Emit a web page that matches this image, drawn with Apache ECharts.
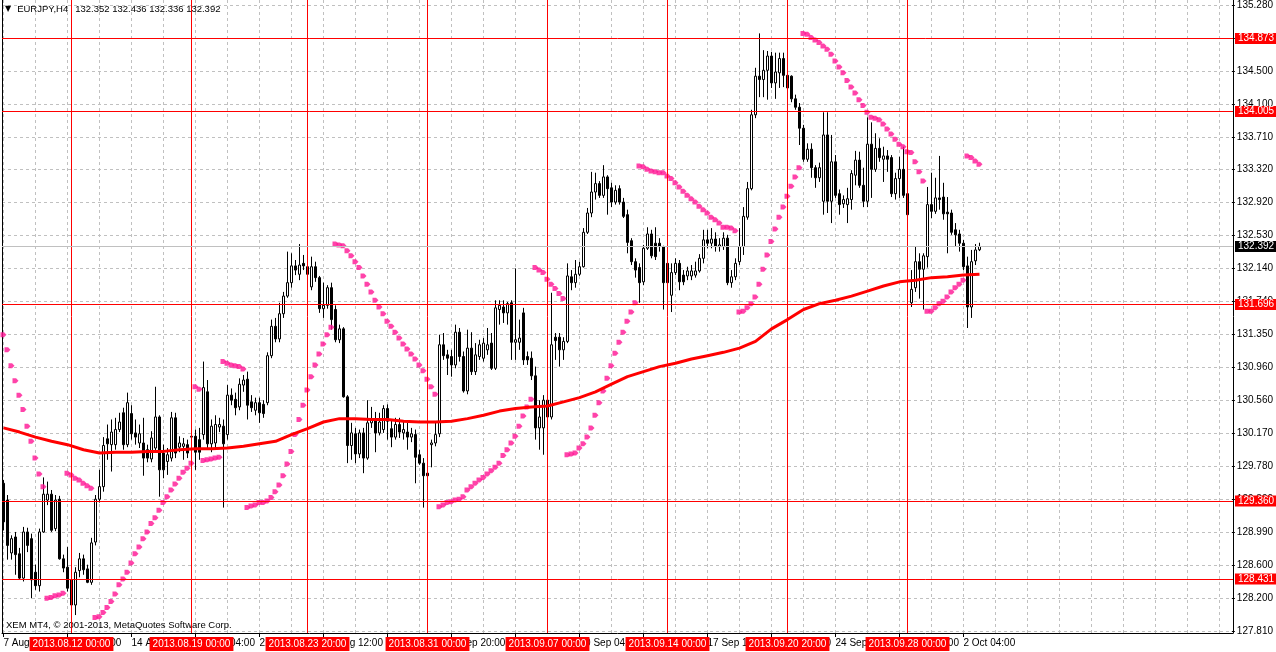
<!DOCTYPE html>
<html><head><meta charset="utf-8">
<script src="https://cdn.jsdelivr.net/npm/echarts@6/dist/echarts.min.js"></script>
<style>html,body{margin:0;padding:0;background:#fff}#c{width:1276px;height:652px}</style>
</head><body><div id="c"></div>
<script>
// ---------------- data ----------------
const symbolName = 'EURJPY,H4';
const copyrightText = 'XEM MT4, \u00a9 2001-2013, MetaQuotes Software Corp.';
const priceTickLabels = ['127.810','128.200','128.600','128.990','129.390','129.780','130.170','130.560','130.960','131.350','131.740','132.140','132.530','132.920','133.320','133.710','134.100','134.500','134.890','135.280'];
const timeTickLabels = [[0,'7 Aug 2013'],[16,'9 Aug 20:00'],[32,'14 Aug 12:00'],[48,'19 Aug 04:00'],[64,'21 Aug 20:00'],[80,'26 Aug 12:00'],[96,'29 Aug 04:00'],[112,'2 Sep 20:00'],[128,'5 Sep 12:00'],[144,'10 Sep 04:00'],[160,'12 Sep 20:00'],[176,'17 Sep 12:00'],[192,'20 Sep 04:00'],[208,'24 Sep 20:00'],[224,'27 Sep 12:00'],[240,'2 Oct 04:00']];
// open, close, high, low
const candles = [
[129.57,129.11,129.61,129.01],[129.37,128.83,129.43,128.66],[128.74,128.91,128.95,128.66],[128.93,128.72,128.99,128.48],[128.73,128.44,128.80,128.42],
[128.44,128.99,129.05,128.40],[128.99,128.83,129.04,128.75],[128.91,128.42,128.97,128.20],[128.51,128.35,128.60,128.30],[128.35,128.99,129.03,128.28],
[128.99,129.44,129.64,128.98],[129.37,129.44,129.59,129.31],[129.44,129.01,129.49,128.99],[129.03,129.37,129.43,129.00],[129.38,128.67,129.42,128.66],
[128.67,128.56,128.72,128.51],[128.57,128.32,128.81,128.28],[128.42,128.12,128.48,128.03],[128.12,128.51,128.57,128.00],[128.53,128.67,128.74,128.45],
[128.67,128.54,128.72,128.48],[128.55,128.39,128.60,128.38],[128.39,128.86,128.92,128.36],[128.87,129.38,129.43,128.83],[129.38,129.53,129.73,129.34],
[129.53,130.02,130.12,129.47],[130.10,130.04,130.27,129.85],[130.03,130.18,130.33,129.71],[130.03,130.21,130.35,129.97],[130.21,130.30,130.41,130.18],
[130.41,130.03,130.47,129.97],[130.03,130.53,130.65,130.00],[130.40,130.16,130.50,130.09],[130.17,130.12,130.33,130.03],[130.05,130.16,130.27,129.99],
[130.05,129.87,130.35,129.66],[129.97,129.87,130.03,129.82],[129.86,130.11,130.19,129.82],[129.99,130.36,130.72,129.94],[130.36,129.73,130.38,129.41],
[129.93,129.73,130.03,129.63],[129.83,129.91,129.99,129.67],[129.87,130.35,130.42,129.83],[130.35,129.93,130.41,129.87],[130.00,130.05,130.13,129.94],
[130.01,130.04,130.11,129.85],[130.03,129.93,130.09,129.87],[130.12,130.13,130.21,129.79],[130.13,129.94,130.21,129.73],[130.09,129.94,130.23,129.85],
[130.15,130.71,131.02,130.09],[130.66,130.04,130.80,129.99],[130.04,130.25,130.33,129.94],[130.05,130.27,130.38,129.99],[130.24,130.27,130.35,130.18],
[130.25,130.04,130.33,129.28],[130.15,130.62,130.74,130.09],[130.62,130.56,130.70,130.50],[130.57,130.47,130.65,130.38],[130.48,130.75,130.82,130.44],
[130.74,130.80,130.86,130.66],[130.81,130.50,130.90,130.33],[130.54,130.47,130.62,130.42],[130.44,130.53,130.59,130.38],[130.53,130.41,130.59,130.29],
[130.51,130.40,130.56,130.35],[130.53,131.09,131.13,130.50],[131.09,131.44,131.52,131.06],[131.44,131.29,131.54,131.25],[131.29,131.59,131.72,131.25],
[131.59,131.80,131.85,131.54],[131.80,131.96,132.33,131.78],[131.96,132.16,132.31,131.90],[132.16,132.11,132.23,132.05],[132.06,132.17,132.42,131.99],
[132.19,132.16,132.29,132.11],[132.15,132.06,132.21,132.02],[131.91,132.15,132.27,131.87],[132.15,132.02,132.21,131.97],[132.02,131.65,132.04,131.60],
[131.65,131.69,131.96,131.54],[131.69,131.90,131.93,131.65],[131.90,131.52,131.96,131.40],[131.64,131.28,131.69,131.25],[131.28,131.41,131.46,131.24],
[131.41,130.60,131.43,130.59],[130.60,130.02,130.62,129.81],[130.02,130.17,130.29,129.85],[130.16,129.92,130.23,129.81],[129.92,130.17,130.21,129.87],
[130.17,129.87,130.23,129.69],[129.87,130.29,130.56,129.85],[130.29,130.33,130.48,130.23],[130.33,130.17,130.42,129.94],[130.17,130.30,130.41,130.14],
[130.21,130.46,130.50,130.17],[130.46,130.31,130.51,130.09],[130.22,130.12,130.33,130.00],[130.12,130.27,130.35,130.09],[130.27,130.18,130.35,130.11],
[130.17,130.21,130.30,130.09],[130.18,130.12,130.29,129.97],[130.12,130.16,130.23,130.06],[130.15,129.88,130.21,129.57],[129.91,129.81,129.97,129.79],
[129.81,129.66,129.87,129.28],[129.69,129.66,129.83,129.29],[130.03,130.05,130.09,129.76],[130.05,130.15,130.29,130.01],[130.16,131.22,131.34,130.12],
[131.22,131.09,131.36,131.04],[131.10,131.06,131.16,130.86],[131.08,130.98,131.16,130.84],[130.98,131.37,131.46,130.94],[131.37,131.08,131.42,131.02],
[131.08,130.67,131.14,130.65],[130.67,131.18,131.40,130.63],[131.18,130.90,131.37,130.86],[130.90,131.10,131.24,130.86],[131.08,131.22,131.28,131.04],
[131.06,131.24,131.30,131.02],[131.16,131.22,131.42,131.10],[131.24,130.94,131.36,130.92],[130.94,131.66,131.75,130.92],[131.64,131.69,131.75,131.46],
[131.67,131.60,131.75,131.48],[131.60,131.71,131.73,131.46],[131.72,131.25,131.75,131.04],[131.25,131.28,132.13,131.04],[131.25,131.30,131.52,131.16],
[131.60,131.04,131.66,130.98],[131.08,131.04,131.14,130.98],[131.06,130.85,131.14,130.80],[130.85,130.23,130.96,130.09],[130.23,130.36,130.56,129.97],
[130.23,130.56,130.62,129.91],[130.56,130.36,130.62,130.33],[130.36,131.22,131.84,130.33],[131.31,131.27,131.36,131.04],[131.31,131.16,131.36,130.96],
[131.16,131.26,131.31,131.04],[131.26,132.04,132.19,131.24],[132.03,131.96,132.11,131.87],[131.96,132.06,132.23,131.90],[132.06,132.15,132.21,132.04],
[132.15,132.56,132.61,132.14],[132.56,132.79,132.85,132.54],[132.79,133.04,133.28,132.74],[133.04,133.14,133.27,132.95],[133.14,133.00,133.17,132.97],
[133.00,133.22,133.36,132.97],[133.22,133.08,133.24,132.77],[133.09,132.92,133.15,132.86],[132.92,133.06,133.12,132.89],[133.08,132.92,133.12,132.89],
[132.92,132.75,132.97,132.73],[132.77,132.44,132.83,132.31],[132.46,132.21,132.49,132.17],[132.21,132.11,132.25,132.02],[132.14,131.96,132.19,131.72],
[131.97,132.37,132.41,131.93],[132.37,132.54,132.62,132.35],[132.54,132.28,132.59,132.25],[132.43,132.27,132.62,132.23],[132.43,132.39,132.49,132.33],
[132.39,131.96,132.40,131.64],[132.19,131.96,132.25,131.87],[131.81,132.08,132.19,131.61],[132.08,132.19,132.25,132.05],[132.19,131.97,132.23,131.87],
[132.05,131.97,132.11,131.93],[132.04,132.10,132.15,131.99],[132.04,132.10,132.17,131.99],[132.05,132.10,132.21,132.02],[132.10,132.25,132.30,132.08],
[132.25,132.47,132.59,132.19],[132.47,132.43,132.59,132.37],[132.43,132.48,132.61,132.37],[132.48,132.39,132.56,132.33],[132.39,132.41,132.49,132.33],
[132.39,132.49,132.56,132.35],[132.49,131.96,132.53,131.93],[131.96,132.03,132.11,131.90],[132.03,132.19,132.25,131.99],[132.21,132.39,132.61,132.17],
[132.39,132.75,132.86,132.29],[132.74,133.08,133.16,132.71],[133.08,133.96,134.02,133.06],[133.96,134.42,134.52,133.92],[134.42,134.38,134.93,134.17],
[134.38,134.49,134.73,134.17],[134.49,134.66,134.72,134.14],[134.66,134.34,134.71,134.28],[134.34,134.47,134.70,134.15],[134.46,134.63,134.70,134.28],
[134.63,134.43,134.70,134.29],[134.43,134.28,134.49,134.26],[134.42,134.15,134.43,134.11],[134.15,134.05,134.20,134.02],[134.05,133.80,134.10,133.60],
[133.80,133.43,133.84,133.40],[133.43,133.55,133.62,133.40],[133.55,133.33,133.62,133.21],[133.33,133.21,133.36,133.09],[133.21,133.33,133.39,133.16],
[132.93,133.72,133.99,132.77],[133.72,132.93,133.99,132.79],[132.93,133.40,133.72,132.67],[133.40,133.00,133.48,132.97],[133.02,132.89,133.07,132.77],
[132.90,132.95,133.00,132.85],[132.89,132.96,133.09,132.67],[132.95,133.26,133.30,132.83],[133.24,133.42,133.53,133.12],[133.42,133.12,133.52,133.09],
[133.12,132.93,133.33,132.86],[132.93,133.61,133.93,132.86],[133.61,133.31,133.87,132.97],[133.31,133.56,133.74,133.28],[133.56,133.45,133.68,133.40],
[133.43,133.47,133.58,133.16],[133.47,133.43,133.54,133.28],[133.45,133.02,133.48,132.98],[133.02,133.20,133.27,132.95],[133.20,133.31,133.46,132.97],
[133.31,133.00,133.58,132.97],[133.02,132.77,133.06,132.73],[131.72,131.88,132.11,131.67],[131.90,132.21,132.39,131.85],[132.21,132.12,132.31,131.77],
[132.12,132.28,132.31,131.64],[132.27,132.89,133.10,132.14],[132.89,132.81,133.27,132.73],[132.81,132.97,133.21,132.78],[132.97,132.95,133.47,132.83],
[132.98,132.78,133.15,132.71],[132.80,132.78,132.98,132.31],[132.79,132.56,132.83,132.53],[132.59,132.53,132.67,132.39],[132.54,132.43,132.59,132.33],
[132.43,132.15,132.47,132.11],[132.16,131.67,132.27,131.42],[131.67,132.21,132.35,131.54],[132.22,132.35,132.42,132.17],[132.352,132.392,132.436,132.336]
];
const sarValues = [
131.34,131.16,130.97,130.79,130.62,130.45,130.25,130.07,129.87,129.68,
129.53,128.20,128.21,128.23,128.24,128.26,129.69,129.67,129.63,129.61,
129.57,129.54,129.51,127.97,127.98,128.03,128.09,128.16,128.25,128.36,
128.43,128.51,128.62,128.73,128.81,128.91,128.99,129.09,129.16,129.25,
129.34,129.41,129.49,129.56,129.63,129.70,129.75,129.81,130.72,130.69,
129.84,129.85,129.86,129.87,129.88,131.02,131.00,130.98,130.97,130.96,
130.93,129.28,129.30,129.31,129.34,129.34,129.36,129.40,129.47,129.55,
129.66,129.80,129.95,130.15,130.33,130.50,130.68,130.84,130.98,131.11,
131.23,131.34,131.43,132.42,132.41,132.40,132.34,132.28,132.21,132.14,
132.04,131.94,131.85,131.75,131.67,131.59,131.50,131.44,131.37,131.30,
131.23,131.17,131.11,131.05,130.98,130.91,130.81,130.72,130.63,129.29,
129.31,129.34,129.35,129.37,129.38,129.41,129.49,129.53,129.57,129.61,
129.64,129.68,129.72,129.76,129.81,129.90,129.97,130.05,130.13,130.25,
130.37,130.48,130.57,132.14,132.11,132.08,132.00,131.94,131.89,131.83,
131.77,129.91,129.92,129.93,129.99,130.04,130.12,130.23,130.38,130.53,
130.67,130.82,130.97,131.12,131.25,131.37,131.50,131.61,131.72,133.35,
133.34,133.31,133.29,133.28,133.27,133.27,133.23,133.20,133.15,133.10,
133.05,133.00,132.96,132.92,132.87,132.83,132.79,132.74,132.71,132.67,
132.62,132.62,132.61,132.58,131.61,131.62,131.66,131.71,131.79,131.94,
132.12,132.29,132.45,132.60,132.74,132.86,132.99,133.11,133.22,133.33,
134.93,134.92,134.88,134.85,134.82,134.78,134.74,134.68,134.60,134.53,
134.46,134.37,134.29,134.22,134.14,134.07,133.99,133.93,133.92,133.90,
133.85,133.79,133.73,133.67,133.61,133.58,133.52,133.51,133.40,133.28,
133.17,131.62,131.62,131.66,131.71,131.74,131.79,131.85,131.90,131.94,
131.99,133.47,133.45,133.41,133.37
];
// moving average read every 4 bars: [bar index, value]
const maPoints = [
[0,130.23],[4,130.18],[8,130.12],[12,130.07],[16,130.03],[20,129.97],[24,129.93],[28,129.94],[32,129.94],[36,129.95],
[40,129.95],[44,129.97],[48,129.98],[52,129.98],[56,129.99],[60,130.01],[64,130.04],[68,130.07],[72,130.15],[76,130.22],
[80,130.30],[84,130.34],[88,130.34],[92,130.33],[96,130.33],[100,130.31],[104,130.30],[108,130.30],[112,130.31],[116,130.34],
[120,130.38],[124,130.43],[128,130.46],[132,130.48],[136,130.49],[140,130.54],[144,130.59],[148,130.66],[152,130.75],[156,130.84],
[160,130.90],[164,130.96],[168,131.00],[172,131.05],[176,131.09],[180,131.13],[184,131.18],[188,131.26],[192,131.41],[196,131.52],
[200,131.64],[204,131.71],[208,131.75],[212,131.80],[216,131.86],[220,131.92],[224,131.97],[228,131.99],[232,132.02],[236,132.03],
[240,132.05],[244,132.06]
];
const levelLines = [134.873, 134.005, 131.696, 129.360, 128.431];
const bidPrice = 132.392;
const markerLines = [[17,'2013.08.12 00:00'],[47,'2013.08.19 00:00'],[76,'2013.08.23 20:00'],[106,'2013.08.31 00:00'],[136,'2013.09.07 00:00'],[166,'2013.09.14 00:00'],[196,'2013.09.20 20:00'],[226,'2013.09.28 00:00']];

// ---------------- layout constants ----------------
const W = 1276, H = 652;
const gridLeft = 2, gridRight = 43, gridTop = 0, gridBottom = 19;
const barStep = 4;            // px per bar
const firstBarOffset = 1.5;   // px from grid left to bar 0 centre
const tickPx = 33;            // px between price ticks
const tick0FromBottom = 2;    // px between plot bottom and first price tick
const plotW = W - gridLeft - gridRight, plotH = H - gridTop - gridBottom;
const xMin = -firstBarOffset / barStep, xMax = xMin + plotW / barStep;
const nTicks = priceTickLabels.length - 1;
const p0 = parseFloat(priceTickLabels[0]);
const pStep = (parseFloat(priceTickLabels[nTicks]) - p0) / nTicks;
const kMin = -tick0FromBottom / tickPx, kMax = kMin + plotH / tickPx;
const priceMin = p0 + kMin * pStep, priceMax = p0 + kMax * pStep;
// grid used only for the price tick labels: spans exactly tick 0 .. last tick
const labGridBottom = gridBottom + tick0FromBottom;
const labGridTop = H - labGridBottom - nTicks * tickPx;
// grids for time ticks / vertical grid lines start exactly at bar 0
const bar0Left = gridLeft + firstBarOffset;
const lastLabelIdx = timeTickLabels[timeTickLabels.length-1][0];
const timeGridRight = W - bar0Left - lastLabelIdx * barStep;
const vMax = (W - gridRight - bar0Left) / barStep;

const timeMap = {}; timeTickLabels.forEach(t => timeMap[t[0]] = t[1]);
const candleData = candles.map((r, i) => [i, r[0], r[1], r[3], r[2]]);
const sarData = sarValues.map((v, i) => [i, v]);
const last = candles[candles.length - 1];
const FONT = 'Liberation Sans';
const RED = '#ff0000';
const GRIDC = '#c0c0c0';

const markData = [];
markerLines.forEach(m => markData.push({
  xAxis: m[0],
  label: { formatter: m[1], position: 'start', distance: 4, backgroundColor: RED, color: '#fff', padding: [2, 3, 1, 3], fontSize: 10, lineHeight: 11, fontFamily: FONT }
}));
levelLines.forEach(v => markData.push({
  yAxis: v,
  label: { formatter: v.toFixed(3), position: 'end', distance: 2, backgroundColor: RED, color: '#fff', padding: [0, 3, 0, 3], fontSize: 10, lineHeight: 11, fontFamily: FONT }
}));
markData.push({
  yAxis: bidPrice,
  lineStyle: { color: GRIDC, width: 1, type: 'solid' },
  label: { formatter: bidPrice.toFixed(3), position: 'end', distance: 2, backgroundColor: '#000', color: '#fff', padding: [0, 3, 0, 3], fontSize: 10, lineHeight: 11, fontFamily: FONT }
});

const hiddenAxis = (gi) => ({ type: 'value', gridIndex: gi, min: 0, max: 1, show: false });

const chart = echarts.init(document.getElementById('c'), null, { renderer: 'canvas' });
chart.setOption({
  animation: false,
  backgroundColor: '#fff',
  textStyle: { fontFamily: FONT },
  title: [
    {
      left: 4, top: 4, padding: 0,
      text: '{tri|\u25bc}{sym|' + symbolName + '}{vals|' + [last[0], last[2], last[3], last[1]].map(v => v.toFixed(3)).join(' ') + '}',
      textStyle: {
        fontSize: 9, fontWeight: 'normal', color: '#000',
        rich: {
          tri: { fontFamily: 'DejaVu Sans', fontSize: 8, color: '#000', padding: [0, 6, 0, 1] },
          sym: { fontFamily: FONT, fontSize: 9.5, color: '#000' },
          vals: { fontFamily: FONT, fontSize: 9.5, color: '#000', padding: [0, 0, 0, 7] }
        }
      }
    },
    {
      left: 6, top: 620, padding: 0,
      text: copyrightText,
      textStyle: { fontSize: 9.5, fontWeight: 'normal', color: '#000', fontFamily: FONT }
    }
  ],
  grid: [
    { left: gridLeft, right: gridRight, top: gridTop, bottom: gridBottom },      // 0: data
    { left: bar0Left, right: timeGridRight, top: gridTop, bottom: gridBottom },  // 1: time labels + ticks
    { left: bar0Left, right: gridRight, top: gridTop, bottom: gridBottom },      // 2: vertical grid lines
    { left: gridLeft, right: gridRight, top: labGridTop, bottom: labGridBottom } // 3: price labels + horizontal grid
  ],
  xAxis: [
    {
      type: 'value', gridIndex: 0, min: xMin, max: xMax,
      axisLine: { show: true, onZero: false, lineStyle: { color: '#000', width: 1 } },
      axisTick: { show: false }, axisLabel: { show: false }, splitLine: { show: false }
    },
    {
      type: 'value', gridIndex: 1, min: 0, max: lastLabelIdx, interval: 16,
      axisLine: { show: false, onZero: false },
      axisTick: { show: true, length: 4, lineStyle: { color: '#000' } },
      splitLine: { show: false },
      axisLabel: {
        show: true, align: 'left', margin: 5, color: '#000', fontSize: 10, fontFamily: FONT,
        showMinLabel: true, showMaxLabel: true,
        formatter: v => (timeMap[Math.round(v)] !== undefined && Math.abs(v - Math.round(v)) < 1e-6) ? timeMap[Math.round(v)] : ''
      }
    },
    {
      type: 'value', gridIndex: 2, min: 0, max: vMax, interval: 8,
      axisLine: { show: false, onZero: false }, axisTick: { show: false }, axisLabel: { show: false },
      splitLine: { show: true, lineStyle: { color: GRIDC, type: [3, 3], width: 1 } }
    },
    { type: 'value', gridIndex: 3, min: 0, max: 1, show: false }
  ],
  yAxis: [
    {
      type: 'value', gridIndex: 0, position: 'left', min: priceMin, max: priceMax,
      axisLine: { show: true, onZero: false, lineStyle: { color: '#000', width: 1 } },
      axisTick: { show: false }, axisLabel: { show: false }, splitLine: { show: false }
    },
    {
      type: 'value', gridIndex: 0, position: 'right', min: 0, max: 1,
      axisLine: { show: true, onZero: false, lineStyle: { color: '#000', width: 1 } },
      axisTick: { show: false }, axisLabel: { show: false }, splitLine: { show: false }
    },
    hiddenAxis(1),
    hiddenAxis(2),
    {
      type: 'value', gridIndex: 3, position: 'right', min: 0, max: nTicks, interval: 1,
      axisLine: { show: false, onZero: false },
      axisTick: { show: true, length: 3, lineStyle: { color: '#000' } },
      axisLabel: {
        show: true, margin: 5, color: '#000', fontSize: 10, fontFamily: FONT,
        showMinLabel: true, showMaxLabel: true,
        formatter: v => { const k = Math.round(v); return Math.abs(v - k) < 1e-6 && priceTickLabels[k] ? priceTickLabels[k] : ''; }
      },
      splitLine: { show: true, lineStyle: { color: GRIDC, type: [3, 3], width: 1 } }
    }
  ],
  series: [
    {
      type: 'candlestick', xAxisIndex: 0, yAxisIndex: 0,
      data: candleData, encode: { x: 0, y: [1, 2, 3, 4] },
      barWidth: 3, clip: false,
      itemStyle: { color: '#ffffff', color0: '#000000', borderColor: '#000000', borderColor0: '#000000', borderWidth: 1 },
      z: 3
    },
    {
      type: 'scatter', xAxisIndex: 0, yAxisIndex: 0, data: sarData,
      symbol: 'path://M0,0 L3,0 L5,2.5 L3,5 L0,5 Z', symbolSize: [6, 5],
      itemStyle: { color: '#ff1493' }, clip: false, z: 4, silent: true
    },
    {
      type: 'line', xAxisIndex: 0, yAxisIndex: 0, data: maPoints,
      showSymbol: false, symbol: 'none', lineStyle: { color: RED, width: 3 }, clip: false, z: 5, zlevel: 1, silent: true,
      markLine: {
        silent: true, symbol: ['none', 'none'], animation: false, zlevel: 2, z: 100,
        lineStyle: { color: RED, width: 1, type: 'solid' },
        data: markData
      }
    }
  ]
});
</script>
</body></html>
